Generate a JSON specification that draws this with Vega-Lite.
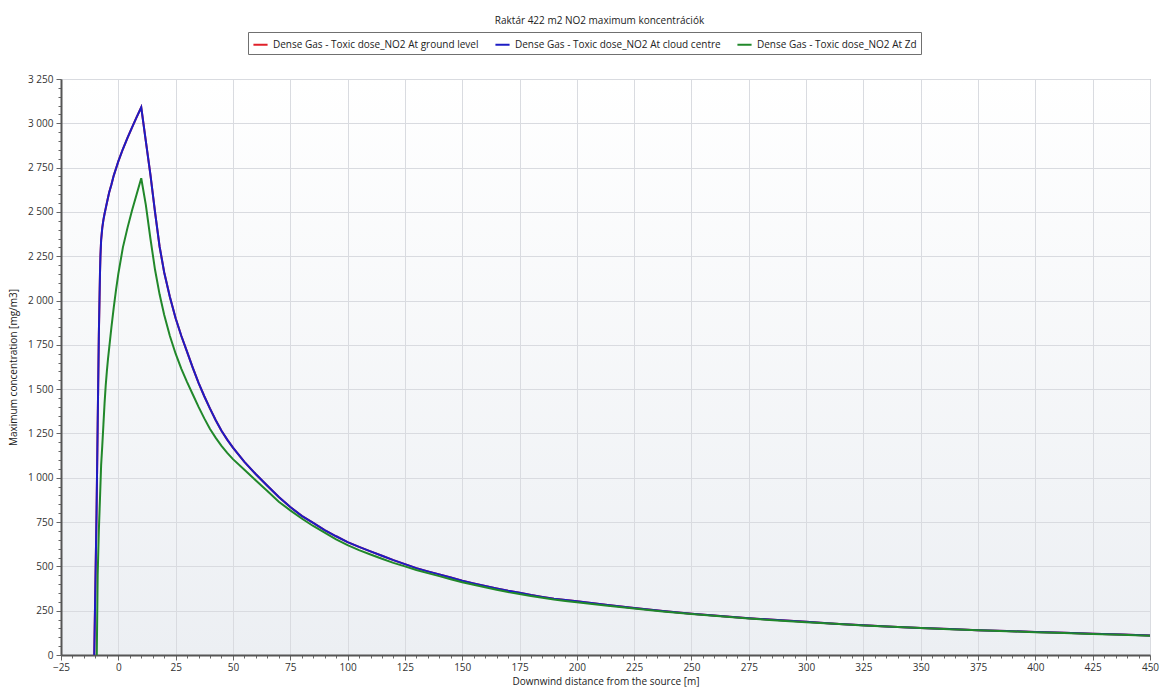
{
  "$schema": "https://vega.github.io/schema/vega-lite/v6.json",
  "width": 1089,
  "height": 576,
  "autosize": {"type": "none"},
  "padding": {"left": 61, "top": 79, "right": 16, "bottom": 34},
  "background": "white",
  "config": {
    "locale": {"number": {"decimal": ".", "thousands": " ", "grouping": [3], "currency": ["", ""]}},
    "font": "Open Sans",
    "view": {
      "stroke": "#8a8a8a",
      "strokeWidth": 1,
      "fill": {
        "gradient": "linear",
        "x1": 0, "y1": 0, "x2": 0, "y2": 1,
        "stops": [
          {"offset": 0, "color": "#ffffff"},
          {"offset": 1, "color": "#eceff3"}
        ]
      }
    },
    "axis": {
      "domainColor": "#555555",
      "domainWidth": 2,
      "tickColor": "#666666",
      "labelFontSize": 10,
      "labelColor": "#333333",
      "labelFont": "Open Sans",
      "titleFont": "Open Sans",
      "titleFontSize": 10,
      "titleFontWeight": "normal",
      "titleColor": "#222222",
      "gridColor": "#d9dbe0",
      "gridWidth": 1,
      "labelOverlap": false,
      "labelFlush": false
    }
  },
  "title": {
    "text": "Raktár 422 m2 NO2 maximum koncentrációk",
    "fontSize": 10,
    "fontWeight": "normal",
    "font": "Open Sans",
    "color": "#222222",
    "anchor": "middle",
    "offset": 6,
    "dx": -6
  },
  "data": {"values": [
      {"d": -10.5, "g": 0, "c": 0, "z": null},
      {"d": -9.5, "g": 800, "c": 800, "z": null},
      {"d": -9.4, "g": null, "c": null, "z": 0},
      {"d": -9, "g": 1300, "c": 1300, "z": 450},
      {"d": -8.5, "g": 1800, "c": 1800, "z": 700},
      {"d": -8, "g": 2150, "c": 2150, "z": 880},
      {"d": -7.8, "g": 2250, "c": 2250, "z": null},
      {"d": -7.5, "g": 2340, "c": 2340, "z": 1070},
      {"d": -7, "g": 2410, "c": 2410, "z": 1180},
      {"d": -6.5, "g": 2455, "c": 2455, "z": 1300},
      {"d": -6, "g": 2490, "c": 2490, "z": 1420},
      {"d": -5.5, "g": 2520, "c": 2520, "z": 1520},
      {"d": -5, "g": 2550, "c": 2550, "z": 1600},
      {"d": -4.5, "g": 2580, "c": 2580, "z": 1670},
      {"d": -4, "g": 2610, "c": 2610, "z": 1730},
      {"d": -3, "g": 2655, "c": 2655, "z": 1850},
      {"d": -2, "g": 2705, "c": 2705, "z": 1960},
      {"d": -1, "g": 2745, "c": 2745, "z": 2060},
      {"d": 0, "g": 2785, "c": 2785, "z": 2150},
      {"d": 2, "g": 2855, "c": 2855, "z": 2300},
      {"d": 4, "g": 2918, "c": 2918, "z": 2410},
      {"d": 6, "g": 2977, "c": 2977, "z": 2510},
      {"d": 8, "g": 3035, "c": 3035, "z": 2600},
      {"d": 10, "g": 3090, "c": 3090, "z": 2690},
      {"d": 12, "g": 2900, "c": 2900, "z": 2540},
      {"d": 14, "g": 2710, "c": 2710, "z": 2350},
      {"d": 16, "g": 2500, "c": 2500, "z": 2175},
      {"d": 18, "g": 2305, "c": 2305, "z": 2035},
      {"d": 20, "g": 2160, "c": 2160, "z": 1920},
      {"d": 22.5, "g": 2020, "c": 2020, "z": 1800},
      {"d": 25, "g": 1900, "c": 1900, "z": 1700},
      {"d": 27.5, "g": 1800, "c": 1800, "z": 1615},
      {"d": 30, "g": 1710, "c": 1710, "z": 1540},
      {"d": 32.5, "g": 1620, "c": 1620, "z": 1470},
      {"d": 35, "g": 1535, "c": 1535, "z": 1400},
      {"d": 37.5, "g": 1460, "c": 1460, "z": 1335},
      {"d": 40, "g": 1390, "c": 1390, "z": 1275},
      {"d": 42.5, "g": 1325, "c": 1325, "z": 1225},
      {"d": 45, "g": 1265, "c": 1265, "z": 1180},
      {"d": 47.5, "g": 1215, "c": 1215, "z": 1140},
      {"d": 50, "g": 1170, "c": 1170, "z": 1105},
      {"d": 55, "g": 1090, "c": 1090, "z": 1045},
      {"d": 60, "g": 1020, "c": 1020, "z": 985},
      {"d": 65, "g": 955, "c": 955, "z": 925},
      {"d": 70, "g": 892, "c": 892, "z": 865},
      {"d": 75, "g": 835, "c": 835, "z": 816},
      {"d": 80, "g": 785, "c": 785, "z": 770},
      {"d": 85, "g": 745, "c": 745, "z": 728},
      {"d": 90, "g": 705, "c": 705, "z": 690},
      {"d": 95, "g": 670, "c": 670, "z": 652},
      {"d": 100, "g": 637, "c": 637, "z": 620},
      {"d": 105, "g": 610, "c": 610, "z": 592},
      {"d": 110, "g": 585, "c": 585, "z": 567},
      {"d": 115, "g": 560, "c": 560, "z": 543},
      {"d": 120, "g": 535, "c": 535, "z": 520},
      {"d": 125, "g": 513, "c": 513, "z": 500},
      {"d": 130, "g": 490, "c": 490, "z": 480},
      {"d": 135, "g": 472, "c": 472, "z": 462},
      {"d": 140, "g": 455, "c": 455, "z": 445},
      {"d": 145, "g": 437, "c": 437, "z": 427},
      {"d": 150, "g": 419, "c": 419, "z": 410},
      {"d": 155, "g": 404, "c": 404, "z": 396},
      {"d": 160, "g": 390, "c": 390, "z": 382},
      {"d": 165, "g": 376, "c": 376, "z": 368},
      {"d": 170, "g": 362, "c": 362, "z": 355},
      {"d": 175, "g": 351, "c": 351, "z": 344},
      {"d": 180, "g": 338, "c": 338, "z": 333},
      {"d": 185, "g": 328, "c": 328, "z": 323},
      {"d": 190, "g": 318, "c": 318, "z": 313},
      {"d": 195, "g": 310, "c": 310, "z": 305},
      {"d": 200, "g": 303, "c": 303, "z": 297},
      {"d": 212.5, "g": 283, "c": 283, "z": 279},
      {"d": 225, "g": 265, "c": 265, "z": 262},
      {"d": 237.5, "g": 248, "c": 248, "z": 246},
      {"d": 250, "g": 233, "c": 233, "z": 231},
      {"d": 262.5, "g": 220, "c": 220, "z": 218},
      {"d": 275, "g": 208, "c": 208, "z": 206},
      {"d": 287.5, "g": 197, "c": 197, "z": 195},
      {"d": 300, "g": 187, "c": 187, "z": 185},
      {"d": 312.5, "g": 177, "c": 177, "z": 176},
      {"d": 325, "g": 168, "c": 168, "z": 167},
      {"d": 337.5, "g": 160, "c": 160, "z": 159},
      {"d": 350, "g": 153, "c": 153, "z": 152},
      {"d": 362.5, "g": 146, "c": 146, "z": 145},
      {"d": 375, "g": 140, "c": 140, "z": 139},
      {"d": 387.5, "g": 135, "c": 135, "z": 134},
      {"d": 400, "g": 130, "c": 130, "z": 129},
      {"d": 412.5, "g": 125, "c": 125, "z": 124},
      {"d": 425, "g": 120, "c": 120, "z": 119},
      {"d": 437.5, "g": 115, "c": 115, "z": 114},
      {"d": 450, "g": 110, "c": 110, "z": 109}
  ]},
  "transform": [
    {"fold": ["g", "c", "z"], "as": ["series", "conc"]},
    {"filter": "isValid(datum.conc)"}
  ],
  "mark": {"type": "line", "strokeWidth": 2},
  "encoding": {
    "x": {
      "field": "d",
      "type": "quantitative",
      "scale": {"domain": [-25, 450], "nice": false, "zero": false},
      "axis": {
        "title": "Downwind distance from the source [m]",
        "titlePadding": 4,
        "values": [-25,-20,-15,-10,-5,0,5,10,15,20,25,30,35,40,45,50,55,60,65,70,75,80,85,90,95,100,105,110,115,120,125,130,135,140,145,150,155,160,165,170,175,180,185,190,195,200,205,210,215,220,225,230,235,240,245,250,255,260,265,270,275,280,285,290,295,300,305,310,315,320,325,330,335,340,345,350,355,360,365,370,375,380,385,390,395,400,405,410,415,420,425,430,435,440,445,450],
        "labelExpr": "datum.value % 25 === 0 ? format(datum.value, 'd') : ''",
        "tickSize": {"condition": {"test": "datum.value % 25 === 0", "value": 5}, "value": 3},
        "gridOpacity": {"condition": {"test": "datum.value % 25 === 0", "value": 1}, "value": 0},
        "labelPadding": 2
      }
    },
    "y": {
      "field": "conc",
      "type": "quantitative",
      "scale": {"domain": [0, 3250], "nice": false},
      "axis": {
        "title": "Maximum concentration [mg/m3]",
        "titlePadding": 9,
        "values": [0,50,100,150,200,250,300,350,400,450,500,550,600,650,700,750,800,850,900,950,1000,1050,1100,1150,1200,1250,1300,1350,1400,1450,1500,1550,1600,1650,1700,1750,1800,1850,1900,1950,2000,2050,2100,2150,2200,2250,2300,2350,2400,2450,2500,2550,2600,2650,2700,2750,2800,2850,2900,2950,3000,3050,3100,3150,3200,3250],
        "labelExpr": "datum.value % 250 === 0 ? format(datum.value, ',d') : ''",
        "tickSize": {"condition": {"test": "datum.value % 250 === 0", "value": 5}, "value": 3},
        "gridOpacity": {"condition": {"test": "datum.value % 250 === 0", "value": 1}, "value": 0},
        "labelPadding": 3
      }
    },
    "color": {
      "field": "series",
      "type": "nominal",
      "scale": {"domain": ["g", "c", "z"], "range": ["#e0202a", "#1c1cc4", "#21882a"]},
      "legend": {
        "title": null,
        "orient": "none",
        "legendX": 187,
        "legendY": -47,
        "direction": "horizontal",
        "strokeColor": "#707070",
        "padding": 4,
        "symbolType": "stroke",
        "symbolStrokeWidth": 2,
        "symbolSize": 200,
        "labelFontSize": 10,
        "labelFont": "Open Sans",
        "labelColor": "#222222",
        "columnPadding": 12,
        "labelExpr": "datum.label === 'g' ? 'Dense Gas - Toxic dose_NO2 At ground level' : datum.label === 'c' ? 'Dense Gas - Toxic dose_NO2 At cloud centre' : 'Dense Gas - Toxic dose_NO2 At Zd'",
        "labelLimit": 300
      }
    }
  }
}
